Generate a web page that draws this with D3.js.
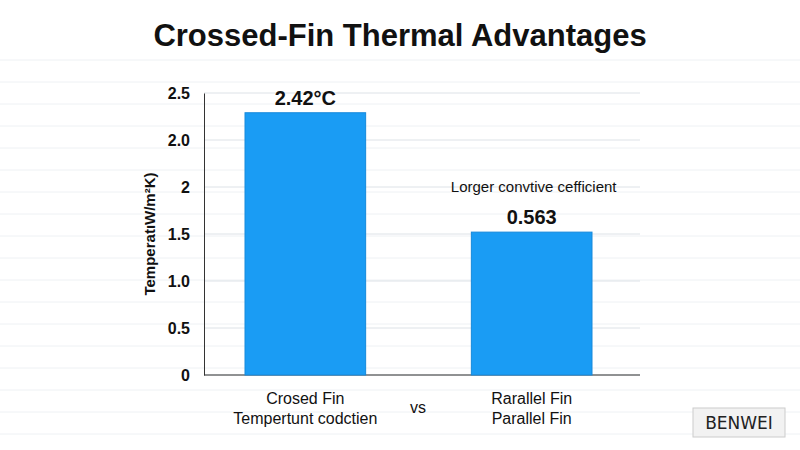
<!DOCTYPE html>
<html><head><meta charset="utf-8">
<script src="https://cdn.jsdelivr.net/npm/d3@7"></script>
<style>body{margin:0;background:#fff}svg{font-family:"Liberation Sans",Arial,sans-serif}</style>
</head><body><div id="chart"></div>
<script>
const categories = ["Crossed", "Parallel"];
const barValues = [2.79, 1.52];
const barLabels = ["2.42°C", "0.563"];
const catLines = [["Crosed Fin", "Tempertunt codctien"], ["Rarallel Fin", "Parallel Fin"]];
const tickValues = [0, 0.5, 1, 1.5, 2, 2.5, 3];
const tickLabels = ["0", "0.5", "1.0", "1.5", "2", "2.0", "2.5"];

const svg = d3.select("#chart").append("svg").attr("width", 800).attr("height", 450);

// faint background grid
const bg = svg.append("g").attr("stroke", "#eef1f4");
d3.range(60, 450, 22).forEach(y => bg.append("line").attr("x1", 0).attr("x2", 800).attr("y1", y).attr("y2", y));

svg.append("text").attr("x", 400).attr("y", 46).attr("text-anchor", "middle")
  .style("font-size", "31px").style("font-weight", "bold").attr("fill", "#111")
  .text("Crossed-Fin Thermal Advantages");

const y = d3.scaleLinear().domain([0, 3]).range([375, 93]);
const x = d3.scaleBand().domain(categories).range([245, 592]).paddingInner(0.467).paddingOuter(0);

svg.append("g").selectAll("line").data(tickValues).join("line")
  .attr("x1", 204).attr("x2", 640).attr("y1", d => y(d)).attr("y2", d => y(d))
  .attr("stroke", "#dde2e7");

const ax = svg.append("g").attr("transform", "translate(204,0)")
  .call(d3.axisLeft(y).tickValues(tickValues).tickFormat((d, i) => tickLabels[i]).tickSize(0).tickPadding(14));
ax.select(".domain").attr("stroke", "#333");
ax.selectAll("text").style("font-size", "16px").style("font-weight", "bold").attr("fill", "#111").style("font-family", "Liberation Sans, Arial");

svg.append("line").attr("x1", 204).attr("x2", 640).attr("y1", y(0)).attr("y2", y(0)).attr("stroke", "#333");

svg.append("text").attr("transform", "translate(155,234) rotate(-90)").attr("text-anchor", "middle")
  .style("font-size", "15px").style("font-weight", "bold").attr("fill", "#111").text("TemperatıW/m²K)");

svg.selectAll(".bar").data(categories).join("rect")
  .attr("x", d => x(d)).attr("width", x.bandwidth())
  .attr("y", (d, i) => y(barValues[i])).attr("height", (d, i) => y(0) - y(barValues[i]))
  .attr("fill", "#1a9cf4").attr("stroke", "#1689db");

svg.selectAll(".vl").data(categories).join("text")
  .attr("x", d => x(d) + x.bandwidth() / 2).attr("y", (d, i) => y(barValues[i]) - 8)
  .attr("text-anchor", "middle").style("font-size", "20px").style("font-weight", "bold").attr("fill", "#111")
  .text((d, i) => barLabels[i]);

svg.append("text").attr("x", x("Parallel") + x.bandwidth() / 2 + 2).attr("y", 192).attr("text-anchor", "middle")
  .style("font-size", "15px").attr("fill", "#111").text("Lorger convtive cefficient");

categories.forEach((c, i) => {
  catLines[i].forEach((t, j) => svg.append("text")
    .attr("x", x(c) + x.bandwidth() / 2).attr("y", 404 + j * 20).attr("text-anchor", "middle")
    .style("font-size", "16px").attr("fill", "#111").text(t));
});
svg.append("text").attr("x", 418).attr("y", 413).attr("text-anchor", "middle")
  .style("font-size", "16px").attr("fill", "#111").text("vs");

svg.append("rect").attr("x", 693).attr("y", 408).attr("width", 92).attr("height", 29)
  .attr("fill", "#f2f2f2").attr("stroke", "#ccc");
svg.append("text").attr("x", 739).attr("y", 429).attr("text-anchor", "middle")
  .style("font-size", "17px").style("font-family", "DejaVu Sans").attr("fill", "#222").text("BENWEI");
</script></body></html>
